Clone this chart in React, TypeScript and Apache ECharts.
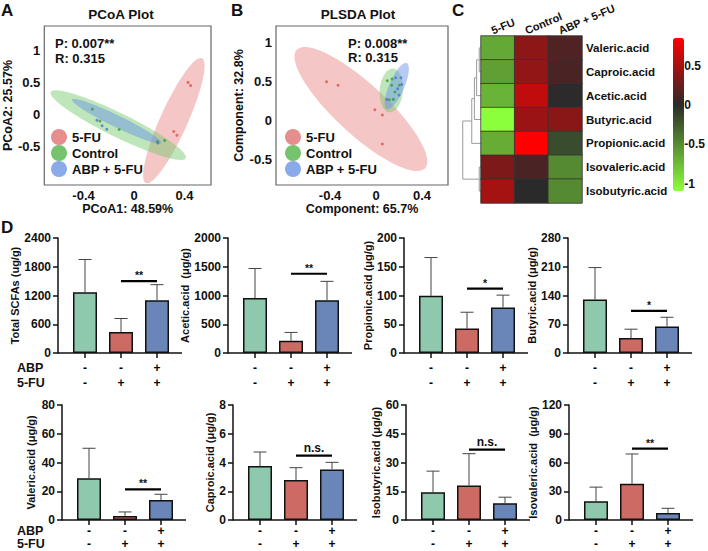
import React, { useEffect, useRef } from 'react';
import * as echarts from 'echarts';

const FONT = 'Arial, "Liberation Sans", Helvetica, sans-serif';
const INK = '#111';

// ---------- Panel A: PCoA ----------
const groupNames = ['5-FU', 'Control', 'ABP + 5-FU'];
const pcoa5FU = [[0.428, 0.5], [0.448, 0.45], [0.315, -0.27], [0.34, -0.33]];
const pcoaControl = [[-0.33, 0.08], [-0.27, -0.107], [-0.118, -0.24], [0.186, -0.43], [0.243, -0.41]];
const pcoaABP = [[-0.294, -0.093], [-0.253, -0.18], [-0.216, -0.235], [0.19, -0.45]];
// ellipses: major-axis end points (x1, y1, x2, y2) and minor/major ratio
const pcoaEll5FU = [0.538, 0.88, 0.093, -1.08, 0.2];
const pcoaEllControl = [-0.66, 0.35, 0.41, -0.69, 0.16];
const pcoaEllABP = [-0.49, 0.23, 0.216, -0.45, 0.12];
const pcoaXTicks = [-0.4, 0, 0.4];
const pcoaYTicks = [-0.5, 0, 0.5, 1];

// ---------- Panel B: PLSDA ----------
const plsda5FU = [[-0.43, 0.5], [-0.33, 0.456], [-0.01, 0.14], [0.055, 0.073], [0.055, -0.3]];
const plsdaControl = [[0.098, 0.513], [0.139, 0.535], [0.136, 0.456], [0.203, 0.456], [0.165, 0.369], [0.116, 0.27], [0.151, 0.274]];
const plsdaABP = [[0.171, 0.553], [0.217, 0.553], [0.188, 0.41], [0.223, 0.465], [0.093, 0.274], [0.2, 0.33]];
const plsdaEll5FU = [-0.69, 0.91, 0.426, -0.61, 0.29];
const plsdaEllControl = [0.15, 0.67, 0.116, 0.108, 0.53];
const plsdaEllABP = [0.267, 0.74, 0.093, 0.15, 0.3];
const plsdaXTicks = [-0.4, 0, 0.4];
const plsdaYTicks = [-0.5, 0, 0.5, 1];

// ---------- Panel C: heatmap ----------
const hmCols = ['5-FU', 'Control', 'ABP + 5-FU'];
const hmRows = ['Valeric.acid', 'Caproic.acid', 'Acetic.acid', 'Butyric.acid', 'Propionic.acid', 'Isovaleric.acid', 'Isobutyric.acid'];
const hm5FU = [-0.65, -0.6, -0.71, -1.094, -0.67, 0.33, 0.49];
const hmControl = [0.39, 0.42, 0.6, 0.45, 0.852, 0.125, 0.0];
const hmABP = [0.145, 0.125, 0.01, 0.38, -0.175, -0.49, -0.49];
const hmTicks = [-1, -0.5, 0, 0.5];
// dendrogram merges: [node A, node B, height]; leaves are 0..6, new nodes 7..
const dendroMerges = [
  [0, 1, 0.08],
  [7, 2, 0.2],
  [8, 3, 0.3],
  [9, 4, 0.42],
  [5, 6, 0.08],
  [10, 11, 0.83],
];

// ---------- Panel D: bars ----------
const barGroups = ['Control', '5-FU', 'ABP + 5-FU'];
const abpSigns = ['-', '-', '+'];
const fuSigns = ['-', '+', '+'];
const totalMean = [1266, 436, 1100];
const totalSD = [685, 284, 326];
const aceticMean = [957, 213, 917];
const aceticSD = [513, 145, 329];
const propionicMean = [99.4, 42.4, 79];
const propionicSD = [66.6, 28.5, 21.6];
const butyricMean = [130, 36.3, 64.6];
const butyricSD = [78, 21.7, 22.4];
const valericMean = [29, 2.8, 13.9];
const valericSD = [20.9, 2.8, 4.0];
const caproicMean = [3.76, 2.78, 3.52];
const caproicSD = [0.97, 0.86, 0.49];
const isobutyricMean = [14.5, 18, 8.7];
const isobutyricSD = [11, 16.6, 3.2];
const isovalericMean = [19.6, 37.8, 7.3];
const isovalericSD = [14.7, 31.1, 4.9];
const barTitles = ['Total SCFAs (ug/g)', 'Acetic.acid  (μg/g)', 'Propionic.acid (μg/g)', 'Butyric.acid (μg/g)',
  'Valeric.acid (μg/g)', 'Caproic.acid (μg/g)', 'Isobutyric.acid (μg/g)', 'Isovaleric.acid  (μg/g)'];
const barMaxes = [2400, 2000, 200, 280, 80, 8, 60, 120];
const barMeans = [totalMean, aceticMean, propionicMean, butyricMean, valericMean, caproicMean, isobutyricMean, isovalericMean];
const barSDs = [totalSD, aceticSD, propionicSD, butyricSD, valericSD, caproicSD, isobutyricSD, isovalericSD];
const sigHeights = [1502, 1378, 112, 102.5, 21.3, 4.48, 36.7, 74.5];
const sigLabels = ['**', '**', '*', '*', '**', 'n.s.', 'n.s.', '**'];

// ---------- layout / style ----------
const groupPointColors = ['#d9534f', '#3c9a3c', '#4a78cc'];
const groupLegendColors = ['#e07272', '#52b447', '#6d95e4'];
const groupEllColors = ['rgba(232,120,120,0.42)', 'rgba(112,200,104,0.45)', 'rgba(110,150,232,0.5)'];
const barColors = ['#8fc9ad', '#cc6a63', '#6a86b9'];
const barLefts = [67, 237, 413, 577, 71, 242, 415, 578];
const barTops = [238, 238, 238, 238, 405, 405, 405, 405];
const barNameGaps = [32, 27, 28, 27, 26, 15, 22, 18];
const rowLabelMargin = [7, 5];
const rowLabelLine = [15, 12.5];
const BAR_W = 108, BAR_H = 115, AX_OFF = 9, EXT_R = 7;
const HM_LEFT = 481, HM_TOP = 36, HM_W = 101, HM_H = 167;

const bold = (size: number) => ({ fontFamily: FONT, fontWeight: 'bold' as const, fontSize: size, color: INK });

function ellipseSeries(ell: number[], color: string, axisIdx: number) {
  return {
    type: 'custom', xAxisIndex: axisIdx, yAxisIndex: axisIdx, silent: true, z: 1,
    data: [ell],
    renderItem: (params: any, api: any) => {
      const p1 = api.coord([api.value(0), api.value(1)]);
      const p2 = api.coord([api.value(2), api.value(3)]);
      const ratio = api.value(4);
      const cx = (p1[0] + p2[0]) / 2, cy = (p1[1] + p2[1]) / 2;
      const a = Math.hypot(p2[0] - p1[0], p2[1] - p1[1]) / 2;
      const b = a * ratio;
      const ang = Math.atan2(p2[1] - p1[1], p2[0] - p1[0]);
      const pts: number[][] = [];
      for (let i = 0; i < 90; i++) {
        const t = (i / 90) * Math.PI * 2;
        const ex = a * Math.cos(t), ey = b * Math.sin(t);
        pts.push([cx + ex * Math.cos(ang) - ey * Math.sin(ang), cy + ex * Math.sin(ang) + ey * Math.cos(ang)]);
      }
      return { type: 'polygon', shape: { points: pts }, style: { fill: color } };
    },
  };
}

function scatterSeries(name: string, pts: number[][], color: string, axisIdx: number) {
  return { type: 'scatter', name, xAxisIndex: axisIdx, yAxisIndex: axisIdx, data: pts, symbolSize: 3, itemStyle: { color }, z: 3, silent: true };
}

function buildDendroSegments() {
  const nodes = hmRows.map((_, i) => ({ y: i, h: 0 }));
  const segs: number[][] = [];
  dendroMerges.forEach(([a, b, h]) => {
    const A = nodes[a], B = nodes[b];
    segs.push([h, A.y, A.h, B.y, B.h]);
    nodes.push({ y: (A.y + B.y) / 2, h });
  });
  return segs;
}

function buildOption() {
  const hmVals = [hm5FU, hmControl, hmABP];
  const hmData: number[][] = [];
  hmVals.forEach((col, c) => col.forEach((v, r) => hmData.push([c, r, v])));
  const all = hmVals.flat();
  const hmMin = Math.min(...all), hmMax = Math.max(...all);
  const NEG = [140, 255, 60], ZERO = [42, 42, 42], POS = [255, 0, 0];
  const hmColor = (v: number) => {
    const t = v < 0 ? v / hmMin : v / hmMax;
    const end = v < 0 ? NEG : POS;
    const c = ZERO.map((z, k) => Math.round(z + (end[k] - z) * t));
    return `rgb(${c[0]},${c[1]},${c[2]})`;
  };
  const stops = Array.from({ length: 81 }, (_, i) => hmColor(hmMin + ((hmMax - hmMin) * i) / 80));

  const grid: any[] = [
    { left: 40, top: 26, width: 171, height: 159, show: true, borderColor: '#666', borderWidth: 1.2, backgroundColor: 'transparent' },
    { left: 276, top: 26, width: 172, height: 159, show: true, borderColor: '#666', borderWidth: 1.2, backgroundColor: 'transparent' },
    { left: 459, top: HM_TOP, width: HM_LEFT - 459, height: HM_H },
    { left: HM_LEFT, top: HM_TOP, width: HM_W, height: HM_H },
    { left: 673, top: 38, width: 11, height: 153 },
  ];
  const xAxis: any[] = [];
  const yAxis: any[] = [];
  const hidden = { axisLine: { show: false }, axisTick: { show: false }, splitLine: { show: false } };

  // A
  xAxis.push({ gridIndex: 0, type: 'value', min: -0.711, max: 0.61, ...hidden,
    axisLabel: { customValues: pcoaXTicks, ...bold(13), margin: 4 },
    name: 'PCoA1: 48.59%', nameLocation: 'middle', nameGap: 17, nameTextStyle: bold(12.5) });
  yAxis.push({ gridIndex: 0, type: 'value', min: -1.11, max: 1.385, ...hidden,
    axisLabel: { customValues: pcoaYTicks, ...bold(13), margin: 4 },
    name: 'PCoA2: 25.57%', nameLocation: 'middle', nameGap: 16, nameTextStyle: bold(12.5) });
  // B
  xAxis.push({ gridIndex: 1, type: 'value', min: -0.87, max: 0.626, ...hidden,
    axisLabel: { customValues: plsdaXTicks, ...bold(13), margin: 4 },
    name: 'Component: 65.7%', nameLocation: 'middle', nameGap: 17, nameTextStyle: bold(12.5) });
  yAxis.push({ gridIndex: 1, type: 'value', min: -0.826, max: 1.217, ...hidden,
    axisLabel: { customValues: plsdaYTicks, ...bold(13), margin: 4 },
    name: 'Component: 32.8%', nameLocation: 'middle', nameGap: 26, nameTextStyle: bold(12.5) });
  // dendrogram
  xAxis.push({ gridIndex: 2, type: 'value', min: 0, max: 1, inverse: true, show: false });
  yAxis.push({ gridIndex: 2, type: 'value', min: -0.5, max: hmRows.length - 0.5, inverse: true, show: false });
  // heatmap
  xAxis.push({ gridIndex: 3, type: 'category', data: hmCols, position: 'top', ...hidden, axisLabel: { show: false } });
  yAxis.push({ gridIndex: 3, type: 'category', data: hmRows, inverse: true, position: 'right', ...hidden,
    axisLabel: { ...bold(11.5), margin: 4, interval: 0 } });
  // colorbar axis
  xAxis.push({ gridIndex: 4, type: 'value', show: false });
  yAxis.push({ gridIndex: 4, type: 'value', min: hmMin, max: hmMax, position: 'right', ...hidden,
    axisLabel: { customValues: hmTicks, ...bold(12), margin: 4 } });

  const series: any[] = [];
  // A & B
  const abSets = [
    { ells: [pcoaEll5FU, pcoaEllControl, pcoaEllABP], pts: [pcoa5FU, pcoaControl, pcoaABP] },
    { ells: [plsdaEll5FU, plsdaEllControl, plsdaEllABP], pts: [plsda5FU, plsdaControl, plsdaABP] },
  ];
  abSets.forEach((set, ai) => {
    set.ells.forEach((e, g) => series.push(ellipseSeries(e, groupEllColors[g], ai)));
    set.pts.forEach((p, g) => series.push(scatterSeries(groupNames[g], p, groupPointColors[g], ai)));
  });
  // dendrogram
  series.push({
    type: 'custom', xAxisIndex: 2, yAxisIndex: 2, silent: true, data: buildDendroSegments(),
    renderItem: (params: any, api: any) => {
      const h = api.value(0);
      const a0 = api.coord([api.value(2), api.value(1)]);
      const a1 = api.coord([h, api.value(1)]);
      const b1 = api.coord([h, api.value(3)]);
      const b0 = api.coord([api.value(4), api.value(3)]);
      return { type: 'polyline', shape: { points: [a0, a1, b1, b0] }, style: { stroke: '#9a9a9a', lineWidth: 1, fill: 'none' } };
    },
  });
  // heatmap
  const hmSeriesIndex = series.length;
  series.push({ type: 'heatmap', xAxisIndex: 3, yAxisIndex: 3, data: hmData, silent: true,
    itemStyle: { borderColor: '#333', borderWidth: 0.8 } });

  // bars
  const graphic: any[] = [];
  barMeans.forEach((means, k) => {
    const gi = 5 + k;
    const row = k < 4 ? 0 : 1;
    const left = barLefts[k], top = barTops[k];
    grid.push({ left, top, width: BAR_W, height: BAR_H });
    xAxis.push({ gridIndex: gi, type: 'category', data: barGroups,
      axisLine: { show: false },
      axisTick: { show: true, alignWithLabel: true, length: 5, lineStyle: { color: INK, width: 1.5 } },
      axisLabel: { ...bold(12), color: '#000', margin: rowLabelMargin[row], lineHeight: rowLabelLine[row], interval: 0,
        formatter: (_v: string, i: number) => abpSigns[i] + '\n' + fuSigns[i] } });
    yAxis.push({ gridIndex: gi, type: 'value', min: 0, max: barMaxes[k], interval: barMaxes[k] / 4, offset: AX_OFF,
      axisLine: { show: true, lineStyle: { color: INK, width: 1.5 } },
      axisTick: { show: true, length: 5, lineStyle: { color: INK, width: 1.5 } },
      splitLine: { show: false },
      axisLabel: { ...bold(12), margin: 7, formatter: (v: number) => String(v) },
      name: barTitles[k], nameLocation: 'middle', nameGap: barNameGaps[k], nameTextStyle: bold(11) });
    series.push({ type: 'bar', xAxisIndex: gi, yAxisIndex: gi, barWidth: 24, silent: true,
      data: means.map((v, i) => ({ value: v, itemStyle: { color: barColors[i] } })),
      itemStyle: { borderColor: INK, borderWidth: 1.5 } });
    const sds = barSDs[k];
    series.push({ type: 'custom', xAxisIndex: gi, yAxisIndex: gi, silent: true, z: 4,
      data: means.map((v, i) => [i, v, v + sds[i]]),
      renderItem: (params: any, api: any) => {
        const p0 = api.coord([api.value(0), api.value(1)]);
        const p1 = api.coord([api.value(0), api.value(2)]);
        const st = { stroke: '#444', lineWidth: 1 };
        return { type: 'group', children: [
          { type: 'line', shape: { x1: p0[0], y1: p0[1], x2: p1[0], y2: p1[1] }, style: st },
          { type: 'line', shape: { x1: p1[0] - 6.5, y1: p1[1], x2: p1[0] + 6.5, y2: p1[1] }, style: st },
        ] };
      } });
    const label = sigLabels[k];
    series.push({ type: 'custom', xAxisIndex: gi, yAxisIndex: gi, silent: true, z: 5,
      data: [[1, 2, sigHeights[k]]],
      renderItem: (params: any, api: any) => {
        const p1 = api.coord([api.value(0), api.value(2)]);
        const p2 = api.coord([api.value(1), api.value(2)]);
        const isNs = label === 'n.s.';
        return { type: 'group', children: [
          { type: 'line', shape: { x1: p1[0], y1: p1[1], x2: p2[0], y2: p2[1] }, style: { stroke: '#000', lineWidth: 2.2 } },
          { type: 'text', x: (p1[0] + p2[0]) / 2, y: p1[1] - (isNs ? 8 : 6),
            style: { text: label, font: `bold ${isNs ? 12 : 10.5}px ${FONT}`, fill: INK, textAlign: 'center', textVerticalAlign: 'middle' } },
        ] };
      } });
    graphic.push({ type: 'line', silent: true,
      shape: { x1: left - AX_OFF, y1: top + BAR_H, x2: left + BAR_W + EXT_R, y2: top + BAR_H },
      style: { stroke: INK, lineWidth: 1.5 } });
  });

  const txt = (text: string, x: number, y: number, size: number, align = 'left', vAlign = 'middle', rotation = 0) => ({
    type: 'text', x, y, rotation, silent: true,
    style: { text, font: `bold ${size}px ${FONT}`, fill: INK, textAlign: align, textVerticalAlign: vAlign },
  });
  graphic.push(txt('A', 1, 2, 17, 'left', 'top'));
  graphic.push(txt('B', 231, 2, 17, 'left', 'top'));
  graphic.push(txt('C', 452, 2, 17, 'left', 'top'));
  graphic.push(txt('D', 1, 219, 17, 'left', 'top'));
  graphic.push(txt('PCoA Plot', 121, 14, 13.5, 'center'));
  graphic.push(txt('PLSDA Plot', 358, 14, 13.5, 'center'));
  graphic.push(txt('P: 0.007**', 55, 43, 13));
  graphic.push(txt('R: 0.315', 55, 58, 13));
  graphic.push(txt('P: 0.008**', 348, 43, 13));
  graphic.push(txt('R: 0.315', 348, 57, 13));
  // heatmap column labels (rotated)
  hmCols.forEach((c, i) => {
    const cx = HM_LEFT + (HM_W / hmCols.length) * (i + 0.5);
    graphic.push(txt(c, cx - 4, HM_TOP, 11, 'left', 'bottom', (23 * Math.PI) / 180));
  });
  [0, 1].forEach((row) => {
    const base = barTops[row * 4] + BAR_H + rowLabelMargin[row];
    const lh = rowLabelLine[row];
    graphic.push(txt('ABP', 17, base + lh / 2, 12.5));
    graphic.push(txt('5-FU', 17, base + lh * 1.5, 12.5));
  });

  const legendBase = {
    orient: 'vertical', itemWidth: 16, itemHeight: 16, itemGap: 0, padding: 0, icon: 'circle', selectedMode: false,
    textStyle: bold(13),
    data: groupNames.map((n, i) => ({ name: n, itemStyle: { color: groupLegendColors[i] } })),
  };

  return {
    animation: false,
    backgroundColor: '#fff',
    textStyle: { fontFamily: FONT },
    grid, xAxis, yAxis,
    legend: [
      { ...legendBase, left: 51, top: 129 },
      { ...legendBase, left: 285, top: 129 },
    ],
    visualMap: [{
      type: 'continuous', min: hmMin, max: hmMax, seriesIndex: hmSeriesIndex, calculable: false,
      left: 673, top: 38, itemWidth: 11, itemHeight: 153, padding: 0, text: null, showLabel: false,
      inRange: { color: stops },
    }],
    series,
    graphic,
  };
}

export default function App() {
  const ref = useRef<HTMLDivElement>(null);
  useEffect(() => {
    const chart = echarts.init(ref.current!, null, { renderer: 'svg' });
    chart.setOption(buildOption() as any);
    return () => chart.dispose();
  }, []);
  return <div ref={ref} style={{ position: 'absolute', left: 0, top: 0, width: 708, height: 551, background: '#fff' }} />;
}
